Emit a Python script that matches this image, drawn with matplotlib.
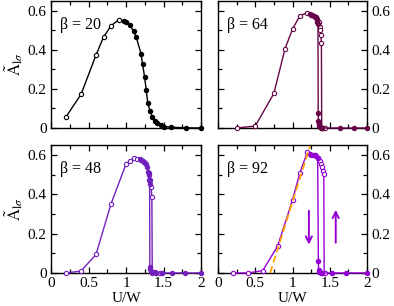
import matplotlib
matplotlib.use("Agg")
from matplotlib import pyplot as plt
from matplotlib.ticker import MultipleLocator, FuncFormatter

plt.rcParams.update({
    'font.family': ['Liberation Serif', 'DejaVu Serif'],
    'mathtext.fontset': 'stix',
    'font.size': 11,
})

# xmgrace-like colours
BLACK = '#000000'
MAROON = '#670748'
INDIGO = '#7221BC'
VIOLET = '#9400D3'
ORANGE = '#FFA500'

# beta = 20 (single sweep)
b20_open_u = [0.2, 0.4, 0.6, 0.7, 0.8, 0.9]
b20_open_a = [0.057, 0.172, 0.373, 0.465, 0.523, 0.553]
b20_fill_u = [0.97, 1.0, 1.05, 1.1, 1.135, 1.2, 1.22, 1.248, 1.27, 1.29, 1.32,
              1.35, 1.38, 1.41, 1.46, 1.5, 1.6, 1.8, 2.0]
b20_fill_a = [0.549, 0.545, 0.529, 0.495, 0.468, 0.38, 0.329, 0.261, 0.193,
              0.129, 0.087, 0.058, 0.037, 0.024, 0.015, 0.007, 0.004, 0.001, 0.0]

# beta = 64
b64_open_u = [0.25, 0.5, 0.75, 0.9, 1.0, 1.1, 1.2, 1.25, 1.3, 1.33, 1.35, 1.365,
              1.372, 1.38, 1.388, 1.392, 1.41, 1.44]
b64_open_a = [0.0, 0.01, 0.177, 0.406, 0.506, 0.575, 0.59, 0.578, 0.567, 0.553,
              0.54, 0.519, 0.502, 0.477, 0.435, 0.0, 0.0, 0.0]
b64_fill_u = [1.23, 1.26, 1.29, 1.31, 1.325, 1.335, 1.342, 1.345, 1.348, 1.352,
              1.36, 1.37, 1.385, 1.4, 1.64, 1.82, 2.0]
b64_fill_a = [0.585, 0.578, 0.574, 0.566, 0.556, 0.545, 0.53, 0.076, 0.035,
              0.02, 0.01, 0.005, 0.002, 0.0, 0.0, 0.0, 0.0]

# beta = 48
b48_open_u = [0.2, 0.4, 0.6, 0.8, 1.0, 1.05, 1.1, 1.15, 1.2, 1.25, 1.3, 1.32,
              1.335, 1.345, 1.35, 1.4, 1.45]
b48_open_a = [0.0, 0.01, 0.094, 0.351, 0.553, 0.57, 0.583, 0.58, 0.575, 0.56,
              0.51, 0.47, 0.435, 0.385, 0.0, 0.0, 0.0]
b48_fill_u = [1.18, 1.2, 1.22, 1.24, 1.26, 1.28, 1.29, 1.3, 1.31, 1.315, 1.318,
              1.325, 1.335, 1.35, 1.38, 1.4, 1.48, 1.61, 1.79, 2.0]
b48_fill_a = [0.578, 0.575, 0.57, 0.565, 0.555, 0.54, 0.515, 0.50, 0.47, 0.45,
              0.03, 0.02, 0.012, 0.006, 0.003, 0.0, 0.0, 0.0, 0.0, 0.0]

# beta = 92
b92_open_u = [0.2, 0.4, 0.6, 0.8, 1.0, 1.1, 1.2, 1.25, 1.3, 1.34, 1.37, 1.38,
              1.395, 1.41, 1.42, 1.425, 1.44]
b92_open_a = [0.0, 0.0, 0.012, 0.136, 0.371, 0.51, 0.615, 0.6, 0.598, 0.585,
              0.57, 0.553, 0.536, 0.519, 0.503, 0.0, 0.0]
b92_fill_u = [1.235, 1.27, 1.3, 1.32, 1.338, 1.347, 1.35, 1.36, 1.38, 1.4,
              1.53, 1.72, 2.0]
b92_fill_a = [0.603, 0.6, 0.598, 0.592, 0.583, 0.062, 0.015, 0.005, 0.002, 0.0,
              0.0, 0.0, 0.0]
fit_u = [0.70, 1.235]
fit_a = [0.0, 0.645]

W, H = 394, 306
fig = plt.figure(figsize=(W / 100, H / 100), dpi=100)
MS = 3.1


def make_ax(x0, y0, x1, y1):
    # pixel box -> figure fraction
    return fig.add_axes([x0 / W, 1 - y1 / H, (x1 - x0) / W, (y1 - y0) / H])


def style(ax, left=True, bottom=True):
    ax.set_xlim(0, 2)
    ax.set_ylim(0, 0.65)
    ax.xaxis.set_major_locator(MultipleLocator(0.5))
    ax.xaxis.set_minor_locator(MultipleLocator(0.25))
    ax.yaxis.set_major_locator(MultipleLocator(0.2))
    ax.yaxis.set_minor_locator(MultipleLocator(0.1))
    fmt = FuncFormatter(lambda v, p: '%g' % round(v, 3))
    ax.xaxis.set_major_formatter(fmt)
    ax.yaxis.set_major_formatter(fmt)
    ax.tick_params(which='both', direction='in', top=True, right=True,
                   width=0.9, labelsize=11, pad=3)
    ax.tick_params(which='major', length=4.5)
    ax.tick_params(which='minor', length=3)
    ax.tick_params(labelbottom=bottom, labelleft=left, labelright=not left)
    for s in ax.spines.values():
        s.set_linewidth(1.0)
    if left:
        ax.set_ylabel(r'$\tilde{\mathrm{A}}_{\mathrm{l}\sigma}$', fontsize=12,
                      labelpad=2)
    if bottom:
        ax.set_xlabel('U/W', fontsize=11, labelpad=1)


def curve(ax, u, a, color, filled):
    ax.plot(u, a, '-', color=color, lw=1.0, marker='o', ms=MS, mew=0.8,
            mec=color, mfc=color if filled else 'white', clip_on=False,
            zorder=3)


ax1 = make_ax(51, 1, 201, 128)
ax2 = make_ax(218, 1, 367, 128)
ax3 = make_ax(51, 145, 201, 273)
ax4 = make_ax(218, 145, 367, 273)

# beta 20
ax1.plot(b20_open_u + b20_fill_u, b20_open_a + b20_fill_a, '-', color=BLACK,
         lw=1.0, zorder=2)
ax1.plot(b20_open_u, b20_open_a, 'o', color=BLACK, ms=MS, mew=0.8,
         mfc='white', clip_on=False, zorder=3)
ax1.plot(b20_fill_u, b20_fill_a, 'o', color=BLACK, ms=MS, mew=0.8,
         clip_on=False, zorder=3)

curve(ax2, b64_open_u, b64_open_a, MAROON, False)
curve(ax2, b64_fill_u, b64_fill_a, MAROON, True)

curve(ax3, b48_open_u, b48_open_a, INDIGO, False)
curve(ax3, b48_fill_u, b48_fill_a, INDIGO, True)

curve(ax4, b92_open_u, b92_open_a, VIOLET, False)
curve(ax4, b92_fill_u, b92_fill_a, VIOLET, True)
ax4.plot(fit_u, fit_a, '--', color=ORANGE, lw=1.3, dashes=(4, 2), zorder=4)
ax4.annotate('', xy=(1.22, 0.13), xytext=(1.22, 0.33),
             arrowprops=dict(arrowstyle='->', color=VIOLET, lw=1.4))
ax4.annotate('', xy=(1.58, 0.335), xytext=(1.58, 0.14),
             arrowprops=dict(arrowstyle='->', color=VIOLET, lw=1.4))

style(ax1, left=True, bottom=False)
style(ax2, left=False, bottom=False)
style(ax3, left=True, bottom=True)
style(ax4, left=False, bottom=True)

for ax, lab in [(ax1, '20'), (ax2, '64'), (ax3, '48'), (ax4, '92')]:
    ax.text(0.06, 0.81, '\u03b2 = ' + lab, transform=ax.transAxes,
            ha='left', va='center', fontsize=11.5)

fig.savefig('out.png', dpi=100)
